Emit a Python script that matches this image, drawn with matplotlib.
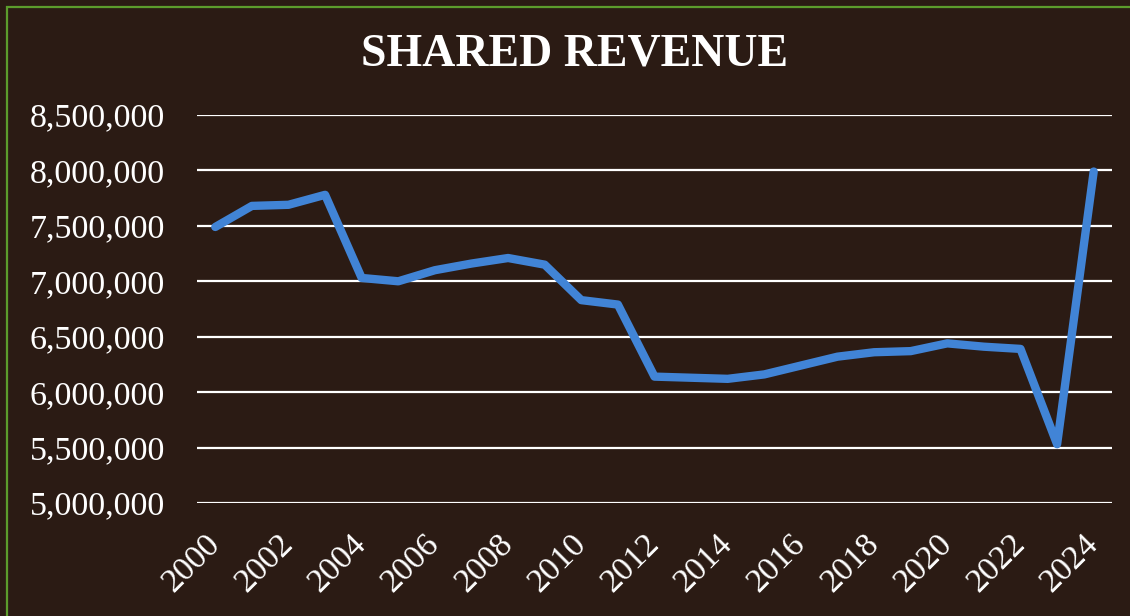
import numpy as np
import matplotlib.pyplot as plt
from matplotlib.patches import Rectangle
from matplotlib.ticker import FuncFormatter

#--------------------DATA------------------------#
years = list(range(2000, 2025))
revenue = [7490000, 7680000, 7690000, 7780000, 7030000, 7000000, 7100000,
           7160000, 7210000, 7150000, 6830000, 6790000, 6140000, 6130000,
           6120000, 6160000, 6240000, 6320000, 6360000, 6370000, 6440000,
           6410000, 6390000, 5530000, 7990000]
y_ticks = [5000000, 5500000, 6000000, 6500000, 7000000, 7500000, 8000000, 8500000]
title = "SHARED REVENUE"

#--------------------PLOTTING------------------------#
BG = '#2b1b14'
LINE = '#4184d6'

plt.rcParams['font.family'] = ['Liberation Serif', 'DejaVu Serif']

fig = plt.figure(figsize=(11.3, 6.16), dpi=100)
fig.patch.set_facecolor(BG)

# green frame (only top and left edges visible)
fig.patches.append(Rectangle((6.5 / 1130, -0.1), 1.2, 1.1 - 6.5 / 616,
                             transform=fig.transFigure, fill=False,
                             edgecolor='#5c9c2c', linewidth=1.6))

ax = fig.add_axes([197 / 1130, 1 - 503 / 616, (1112 - 197) / 1130, (503 - 115) / 616])
ax.set_facecolor('none')

x = np.arange(len(years))
ax.plot(x, revenue, color=LINE, linewidth=6, solid_capstyle='round',
        solid_joinstyle='round', zorder=3)

ax.set_xlim(-0.5, len(years) - 0.5)
ax.set_ylim(y_ticks[0], y_ticks[-1])
ax.set_yticks(y_ticks)
ax.yaxis.set_major_formatter(FuncFormatter(lambda v, p: f"{int(v):,}"))
ax.grid(axis='y', color='white', linewidth=1.6)
ax.set_axisbelow(True)

ax.set_xticks(x[::2])
ax.set_xticklabels([str(y) for y in years[::2]], rotation=45, ha='right',
                   va='center', rotation_mode='anchor')

ax.tick_params(axis='y', length=0, colors='white', labelsize=24.5, pad=23)
ax.tick_params(axis='x', length=0, colors='white', labelsize=24.5, pad=26)
for s in ax.spines.values():
    s.set_visible(False)

fig.text(575 / 1130, 1 - 55 / 616, title, color='white', fontsize=33,
         fontweight='bold', ha='center', va='center')

plt.savefig('out.png', dpi=100, facecolor=BG)
